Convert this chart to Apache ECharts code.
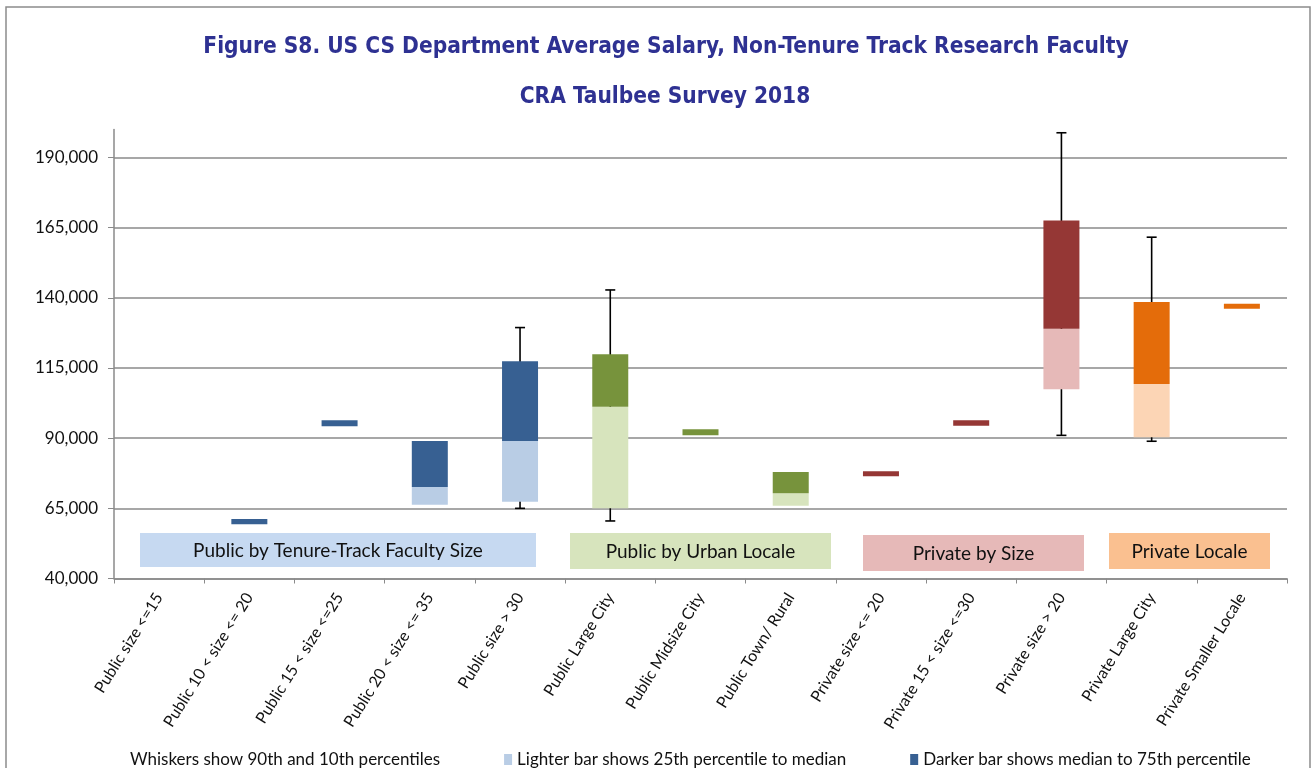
<!DOCTYPE html>
<html>
<head>
<meta charset="utf-8">
<title>Figure S8</title>
<script src="https://cdn.jsdelivr.net/npm/echarts/dist/echarts.min.js"></script>
<style>
  html, body { margin: 0; padding: 0; background: #fff; }
  #chart { width: 1312px; height: 768px; }
</style>
</head>
<body>
<div id="chart"></div>
<script>
// categories and group membership
const categories = [
  'Public size <=15', 'Public 10 < size <= 20', 'Public 15 < size <=25', 'Public 20 < size <= 35',
  'Public size > 30', 'Public Large City', 'Public Midsize City', 'Public Town/ Rural',
  'Private size <= 20', 'Private 15 < size <=30', 'Private size > 20', 'Private Large City',
  'Private Smaller Locale'
]
const groupNames = ['Public by Tenure-Track Faculty Size', 'Public by Urban Locale', 'Private by Size', 'Private Locale']
const catGroup = [0, 0, 0, 0, 0, 1, 1, 1, 2, 2, 2, 3, 3]

// percentiles (null = not shown)
const p10 = [null, null, null, null, 65000, 60500, null, null, null, null, 91000, 88900, null]
const q1 = [null, 59300, 94200, 66300, 67300, 65000, 91000, 65900, 76400, 94400, 107400, 90300, 136100]
const median = [null, 59300, 94200, 72600, 89000, 101200, 91000, 70400, 76400, 94400, 129000, 109300, 136100]
const q3 = [null, 61200, 96400, 89000, 117400, 119900, 93200, 77900, 78200, 96400, 167500, 138500, 137900]
const p90 = [null, null, null, null, 129400, 142800, null, null, null, null, 198800, 161600, null]

// y axis
const yMin = 40000
const yMax = 200000
const yStep = 25000

const legendNames = [
  'Whiskers show 90th and 10th percentiles',
  'Lighter bar shows 25th percentile to median',
  'Darker bar shows median to 75th percentile'
]

// styles
const darkColors = ['#376092', '#77933C', '#953735', '#E46C0A']
const lightColors = ['#B9CDE5', '#D7E4BD', '#E6B9B8', '#FCD5B5']
const tagColors = ['#C6D9F1', '#D7E4BD', '#E6B9B8', '#FAC090']
const tagBoxes = [ // x, y, w, h of the group tags
  [140, 533, 396, 34],
  [570, 533, 261, 36],
  [863, 535, 221, 36],
  [1109, 533, 161, 36]
]
const font = 'Lato, "Open Sans", sans-serif'
const titleFont = 'bold 22.5px "DejaVu Sans Condensed", "DejaVu Sans", sans-serif'
const titleColor = '#2E3192'

const myChart = echarts.init(document.getElementById('chart'))

const baseData = q1.map(v => v)
const lightData = q1.map((v, i) => v == null ? null : {
  value: median[i] - v, itemStyle: { color: lightColors[catGroup[i]] }
})
const darkData = q3.map((v, i) => v == null ? null : {
  value: v - median[i], itemStyle: { color: darkColors[catGroup[i]] }
})
const whiskerData = []
p10.forEach((v, i) => {
  if (v != null) whiskerData.push([i, v, p90[i]])
})

const graphics = [
  { // outer frame
    type: 'rect', shape: { x: 6, y: 7, width: 1304, height: 800 },
    style: { fill: null, stroke: '#8c8c8c', lineWidth: 1.5 }, silent: true
  },
  {
    type: 'text', x: 666, y: 47,
    style: { text: 'Figure S8. US CS Department Average Salary, Non-Tenure Track Research Faculty',
      fill: titleColor, font: titleFont, align: 'center', verticalAlign: 'middle' }
  },
  {
    type: 'text', x: 665, y: 97,
    style: { text: 'CRA Taulbee Survey 2018',
      fill: titleColor, font: titleFont, align: 'center', verticalAlign: 'middle' }
  }
]
groupNames.forEach((name, g) => {
  const b = tagBoxes[g]
  graphics.push({
    type: 'rect', shape: { x: b[0], y: b[1], width: b[2], height: b[3] },
    style: { fill: tagColors[g] }, z: 5, silent: true
  })
  graphics.push({
    type: 'text', x: b[0] + b[2] / 2, y: b[1] + b[3] / 2 + 1, z: 6,
    style: { text: name, fill: '#111', font: '19px ' + font, align: 'center', verticalAlign: 'middle' }
  })
})

myChart.setOption({
  animation: false,
  graphic: graphics,
  grid: { left: 114, right: 25, top: 129.4, bottom: 189.5 },
  legend: {
    left: 112,
    top: 746,
    itemWidth: 8,
    itemHeight: 11,
    itemGap: 64,
    selectedMode: false,
    textStyle: { fontFamily: font, fontSize: 17, color: '#111' },
    data: [
      { name: legendNames[0], icon: 'none' },
      { name: legendNames[1], icon: 'rect' },
      { name: legendNames[2], icon: 'rect' }
    ]
  },
  xAxis: {
    type: 'category',
    data: categories,
    axisLine: { lineStyle: { color: '#8a8a8a', width: 1.5 } },
    axisTick: { show: true, length: 5, lineStyle: { color: '#8a8a8a' } },
    axisLabel: { interval: 0, rotate: 58, margin: 16, fontFamily: font, fontSize: 16, color: '#111' },
    splitLine: { show: false }
  },
  yAxis: {
    type: 'value',
    min: yMin,
    max: yMax,
    interval: yStep,
    axisLine: { show: true, lineStyle: { color: '#8a8a8a', width: 1.5 } },
    axisTick: { show: true, length: 6, lineStyle: { color: '#8a8a8a' } },
    axisLabel: {
      showMaxLabel: false,
      margin: 16,
      fontFamily: font,
      fontSize: 17,
      color: '#111',
      formatter: v => v.toLocaleString('en-US')
    },
    splitLine: { show: true, showMaxLine: false, lineStyle: { color: '#8a8a8a', width: 1.5 } }
  },
  series: [
    {
      name: 'base', type: 'bar', stack: 'box', barWidth: 36, silent: true,
      itemStyle: { color: 'rgba(0,0,0,0)' }, data: baseData
    },
    {
      name: legendNames[1], type: 'bar', stack: 'box', barWidth: 36, silent: true,
      itemStyle: { color: lightColors[0] }, data: lightData
    },
    {
      name: legendNames[2], type: 'bar', stack: 'box', barWidth: 36, silent: true,
      itemStyle: { color: darkColors[0] }, data: darkData
    },
    {
      name: legendNames[0], type: 'custom', z: 1, silent: true,
      itemStyle: { color: '#000' },
      encode: { x: 0, y: [1, 2] },
      renderItem: (params, api) => {
        const i = api.value(0)
        const lo = api.coord([i, api.value(1)])
        const hi = api.coord([i, api.value(2)])
        const cap = 5
        const st = { stroke: '#000', lineWidth: 1.6 }
        return {
          type: 'group',
          children: [
            { type: 'line', shape: { x1: lo[0], y1: lo[1], x2: hi[0], y2: hi[1] }, style: st },
            { type: 'line', shape: { x1: lo[0] - cap, y1: lo[1], x2: lo[0] + cap, y2: lo[1] }, style: st },
            { type: 'line', shape: { x1: hi[0] - cap, y1: hi[1], x2: hi[0] + cap, y2: hi[1] }, style: st }
          ]
        }
      },
      data: whiskerData
    }
  ]
})
</script>
</body>
</html>
